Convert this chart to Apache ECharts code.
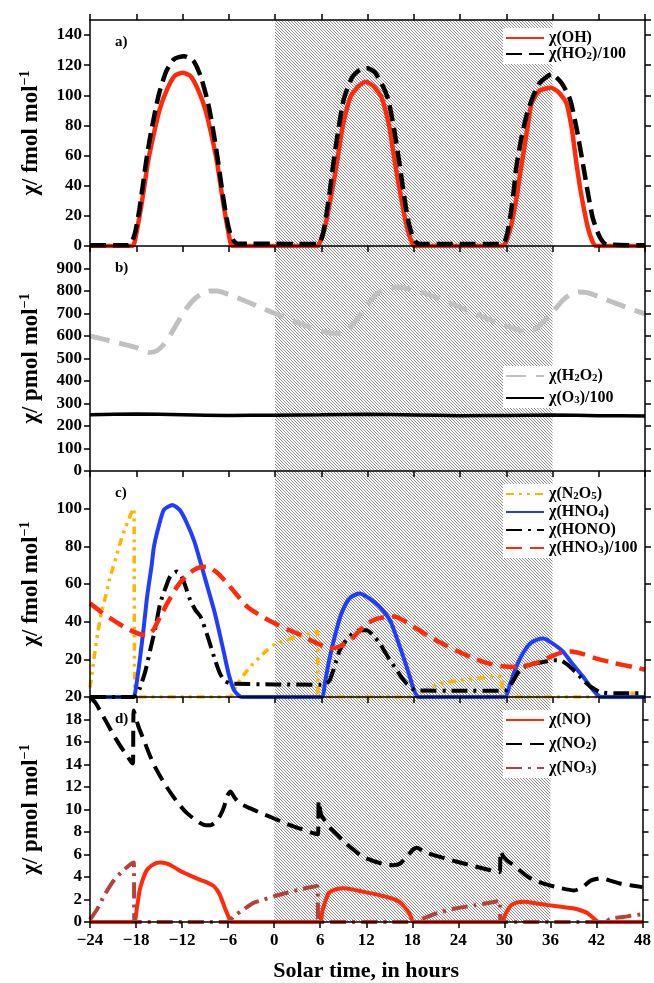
<!DOCTYPE html>
<html>
<head>
<meta charset="utf-8">
<script src="https://cdn.jsdelivr.net/npm/echarts@6/dist/echarts.min.js"></script>
<style>
html, body { margin: 0; padding: 0; background: #fff; }
#main { width: 654px; height: 983px; }
</style>
</head>
<body>
<div id="main"></div>
<script>
// hours, value pairs
var shadedHours = [0, 36];
var hourTicks = [-24, 48, 6];

// panel a
var ohData = [[-24,0],[-18.5,0],[-18,8],[-17.5,22],[-17,38],[-16.5,55],[-16,68],[-15,90],[-14,104],[-13,113],[-12,115],[-11,113],[-10,104],[-9,90],[-8,68],[-7.5,55],[-7,38],[-6.5,22],[-6,8],[-5.5,0],
  [5.5,0],[5.8,2],[6.3,9],[6.8,20],[7.3,34],[7.8,48],[8.3,64],[8.8,80],[9.8,99],[10.8,106],[11.8,109],[12.8,106],[13.8,99],[14.8,80],[15.3,64],[15.8,48],[16.3,34],[16.8,20],[17.3,9],[17.8,2],[18.1,0],
  [29.5,0],[29.9,2],[30.4,9],[30.9,20],[31.4,34],[31.8,48],[32.3,64],[32.8,80],[33.3,95],[34.3,103],[35.8,105],[36.8,102],[37.8,95],[38.5,78],[39.1,55],[39.6,38],[40.1,24],[40.6,12],[41.1,4],[41.6,0],[48,0]];
var ho2Data = [[-24,0.5],[-19,0.5],[-18.6,2],[-18.1,10],[-17.6,24],[-17.1,42],[-16.6,60],[-16.1,75],[-15.1,100],[-14.1,116],[-13.1,124],[-11.8,126],[-10.6,123],[-9.6,112],[-8.6,93],[-7.8,70],[-7.3,53],[-6.8,35],[-6.3,19],[-5.8,8],[-5.3,3],[-4.8,1.5],
  [-3,1.5],[0,1.5],[3,1.3],[5.5,1.3],[5.9,3],[6.3,10],[6.7,22],[7.1,36],[7.5,52],[8,70],[8.9,97],[10,112],[11,117],[12,118],[13,115],[14,106],[14.7,97],[15.5,76],[16.2,53],[16.7,35],[17.2,19],[17.7,8.6],[18.2,3],[18.7,1.5],
  [20,1.3],[24,1.3],[29.4,1.3],[29.8,3],[30.2,10],[30.6,22],[31,38],[31.3,52],[31.9,70],[32.6,86],[33.3,97],[34.3,108],[35.9,114],[37.2,108],[38.3,97],[39.2,76],[40,53],[40.6,35],[41.2,19],[41.9,8.6],[42.5,3],[43,1],[48,0.5]];

// panel b
var h2o2Data = [[-24,600],[-21,575],[-18,548],[-16.3,527],[-15.3,535],[-14.5,560],[-13.5,610],[-12.5,668],[-11.5,722],[-10.5,763],[-9.5,788],[-8.5,800],[-7.5,800],[-6,785],[-4,758],[-2,728],[0,700],[2,672],[4,646],[6,624],[7.5,612],[8.5,612],[9.5,630],[10.5,668],[11.5,715],[12.5,762],[13.5,795],[14.5,811],[15.8,818],[17,812],[19,795],[21,770],[23,742],[25,713],[27,685],[29,657],[31,634],[32.3,620],[33.3,622],[34.3,645],[35.3,680],[36.3,718],[37.3,758],[38.3,785],[39.5,796],[40.5,793],[42,775],[44,748],[46,722],[48,698]];
var o3Data = [[-24,250],[-18,253],[-12,250],[-6,247],[0,248],[6,250],[12,252],[18,249],[24,246],[30,247],[36,249],[42,246],[48,244]];

// panel c
var n2o5Data = [[-24,5],[-23.5,20],[-23,34],[-22.5,45],[-22,53],[-21.5,62],[-21,69],[-20.5,76],[-20,83],[-19.5,89],[-19,94],[-18.5,99],[-18.3,100],[-18.15,0],[-6,0],[-5.6,1],[-5,6],[-4,12],[-3,17],[-2,21],[-1,25],[0,28],[1,29.5],[2,31],[3,32],[4,33],[5,34],[5.5,35],[5.6,0],
  [18.5,0],[19,2],[20,4.5],[21,6.5],[22,7.5],[24,8.8],[26,9.8],[28,10.6],[29.4,11],[29.5,0],[43,0],[44,1.5],[46,2],[48,2]];
var hno4Data = [[-24,0],[-18.4,0],[-18,6],[-17.5,21],[-17,38],[-16.6,53],[-16,70],[-15.7,80],[-15,92],[-14.4,99.5],[-13.3,102],[-12.3,99],[-11.4,92],[-10.5,83],[-9.7,72],[-8.8,59],[-7.9,46],[-7.2,34],[-6.6,23],[-6,12],[-5.3,3.5],[-4.6,0.5],[-4.2,0],
  [6,0],[6.5,8],[7,19],[7.5,28],[8,36],[8.5,43],[9,48],[9.5,51.5],[10,53.5],[11,55],[12,53],[13,50],[14,46],[15,40],[16,29],[17,17],[17.5,10.6],[18,4],[18.6,0],
  [29.8,0],[30.5,7],[31.3,16],[32.2,23.5],[33.1,28.4],[34,30.5],[34.8,31],[35.8,29],[37.4,24],[38.5,18],[40,10.6],[41,5],[41.7,1.7],[42.3,0],[48,0]];
var honoData = [[-24,0],[-18.3,0],[-17.9,1.5],[-17.5,5],[-16.8,14],[-16.2,24.8],[-15.5,37],[-14.9,49.7],[-14.2,58],[-13.6,64],[-12.7,66.6],[-12,63],[-11,51.5],[-10.3,46],[-9.65,42.6],[-8.8,33],[-7.9,21.2],[-7.2,13],[-6.6,8.8],[-5.8,7.2],[-5.3,7],[0,6.7],[6,6.5],
  [6.6,7],[7.1,8.8],[7.7,16],[8.4,24.8],[9.2,30],[10.1,33.7],[11,35.5],[11.9,35.5],[12.8,32.5],[13.6,28.4],[14.7,21],[15.8,14.2],[16.5,10],[17.1,7],[17.8,4.5],[18.4,3.5],[24,3.3],[29.8,3.3],
  [30.5,6],[31.1,10],[31.7,14],[32.6,16.5],[33.5,17.7],[34.8,18.6],[36,19.5],[37,19.5],[38,17],[39.2,12.4],[40.1,8.5],[41,5.3],[42.2,2.6],[44,2],[48,2]];
var hno3Data = [[-24,49.7],[-22.5,45],[-21,40.8],[-19.5,37],[-18.3,34.6],[-17.4,33.2],[-16.6,32.8],[-15.8,35.5],[-14.9,42.6],[-13.8,51],[-12.7,58.6],[-11.6,64],[-10.5,67.5],[-9.6,69],[-8.8,69.2],[-7.5,66],[-6.2,60.4],[-4.9,54],[-3.6,47.9],[-1.8,43],[0,39],[1.7,35.8],[3.4,32.8],[4.7,30],[6,27.5],[7.1,25.7],[8.4,26.8],[9.7,30],[10.8,34.5],[11.9,39],[13.2,41.5],[14.5,42.6],[15.5,42.7],[16.6,40.8],[18.3,36.5],[20.1,31.9],[22.2,27.3],[24.4,23],[26.1,20],[27.8,17.7],[29.5,16.3],[31.3,15.9],[33,17],[34.8,19.5],[36.1,22],[37.4,23.9],[38.5,24.2],[40,22.8],[41.7,20.4],[44,18],[46.5,15.9],[48,14.5]];

// panel d
var noData = [[-24,0],[-18.3,0],[-17.9,1.2],[-17.5,2.9],[-17,4.0],[-16.6,4.6],[-16,5.0],[-15.3,5.25],[-14.9,5.3],[-14,5.2],[-13.1,4.9],[-12.3,4.55],[-11,4.15],[-9.65,3.75],[-8.7,3.5],[-7.9,3.2],[-7.4,2.8],[-7,2.3],[-6.4,1.2],[-5.9,0.4],[-5.6,0],
  [5.9,0],[6.3,1.0],[6.7,1.9],[7.1,2.55],[7.8,2.85],[8.9,3.0],[10.2,2.9],[11.5,2.7],[13,2.5],[14.5,2.25],[15.5,2.05],[16.3,1.8],[16.9,1.4],[17.6,0.8],[18.2,0],
  [29.6,0],[30.2,0.8],[30.9,1.5],[31.7,1.75],[32.6,1.8],[34.2,1.65],[35.7,1.5],[37.4,1.35],[39.1,1.2],[40.1,1.0],[40.8,0.8],[41.6,0.35],[42.3,0],[48,0]];
var no2Data = [[-24,20],[-23.3,19.5],[-22.7,18.8],[-21.8,17.7],[-21,16.7],[-20.1,15.7],[-19.2,14.8],[-18.6,14.2],[-18.4,14.1],[-18.3,18.8],[-17.7,17.4],[-17,16.2],[-16.2,14.8],[-15.3,13.5],[-14.2,12.2],[-13.1,11.1],[-12.2,10.3],[-11.4,9.7],[-10.5,9.2],[-9.65,8.8],[-8.9,8.6],[-8.3,8.6],[-7.6,8.9],[-7,9.5],[-6.5,10.3],[-6.2,11.1],[-5.7,11.6],[-5.1,11.0],[-4.4,10.5],[-3.1,10.1],[-1.8,9.7],[0,9.2],[1.7,8.7],[3.4,8.3],[5.1,7.9],[5.7,7.8],
  [5.8,10.8],[6.1,9.6],[6.6,9.0],[7.1,8.5],[8,7.9],[8.9,7.3],[10.2,6.5],[11.5,5.8],[13,5.4],[14.5,5.1],[15.5,5.05],[16.4,5.2],[17.4,5.9],[18.2,6.5],[18.6,6.6],[19.3,6.35],[20.1,6.1],[21.8,5.75],[23.6,5.4],[25.3,5.1],[27,4.8],[28.8,4.5],[29.4,4.45],
  [29.5,6.3],[29.8,5.9],[30.3,5.5],[30.9,5.2],[32,4.6],[33.1,4.0],[34.4,3.6],[35.7,3.3],[37.4,3.0],[39.1,2.8],[40.2,3.1],[41.3,3.7],[42.6,3.9],[43.9,3.65],[45.2,3.4],[46.6,3.25],[48,3.1]];
var no3Data = [[-24,0.2],[-23.6,0.6],[-23.1,1.1],[-22.1,2.4],[-21,3.6],[-19.8,4.5],[-18.6,5.2],[-18.3,5.3],[-18.2,0],[-6,0],[-5.3,0.5],[-4,1.1],[-2.7,1.7],[-1.3,2.0],[0,2.3],[1.7,2.6],[3.4,2.9],[5.6,3.2],[5.8,0],
  [18.6,0],[19,0.2],[20.1,0.5],[21.8,0.9],[23.6,1.2],[26.2,1.5],[28.8,1.8],[29.4,1.9],[29.5,0],[43,0],[43.9,0.3],[46,0.5],[48,0.7]];

var yRanges = [[0, 150, 20], [0, 1000, 100], [0, 120, 20], [0, 20, 2]];
var yUnits = ['fmol', 'pmol', 'fmol', 'pmol'];
var panelNames = ['a)', 'b)', 'c)', 'd)'];

var labels = {
  OH: '{t|χ(OH)}',
  HO2: '{t|χ(HO}{s|2}{t|)/100}',
  H2O2: '{t|χ(H}{s|2}{t|O}{s|2}{t|)}',
  O3: '{t|χ(O}{s|3}{t|)/100}',
  N2O5: '{t|χ(N}{s|2}{t|O}{s|5}{t|)}',
  HNO4: '{t|χ(HNO}{s|4}{t|)}',
  HONO: '{t|χ(HONO)}',
  HNO3: '{t|χ(HNO}{s|3}{t|)/100}',
  NO: '{t|χ(NO)}',
  NO2: '{t|χ(NO}{s|2}{t|)}',
  NO3: '{t|χ(NO}{s|3}{t|)}'
};

var FONT = '"Liberation Serif", "DejaVu Serif", serif';

var myChart = echarts.init(document.getElementById('main'));

// hatch pattern for the shaded hours
var hatch = document.createElement('canvas');
hatch.width = 3; hatch.height = 3;
var hc = hatch.getContext('2d');
hc.fillStyle = '#ffffff'; hc.fillRect(0, 0, 3, 3);
hc.fillStyle = '#8a8a8a';
for (var i = 0; i < 3; i++) hc.fillRect(i, i, 1, 1);

var grids = [
  { left: 90, width: 555, top: 20, height: 226 },
  { left: 90, width: 555, top: 246, height: 225 },
  { left: 90, width: 555, top: 471, height: 226 },
  { left: 90, width: 555, top: 697, height: 225 }
];

var axisLine = { show: true, onZero: false, lineStyle: { color: '#000', width: 1.5 } };
var axisTick = { show: true, inside: false, length: 6, lineStyle: { color: '#000', width: 1.5 } };

function hourLabel(v) { return v < 0 ? '\u2212' + Math.abs(v) : String(v); }

var xAxes = [];
for (var g = 0; g < 4; g++) {
  xAxes.push({
    type: 'value', gridIndex: g, min: hourTicks[0], max: hourTicks[1], interval: hourTicks[2],
    position: 'bottom', z: 10,
    axisLine: axisLine, axisTick: axisTick, splitLine: { show: false },
    axisLabel: {
      show: g === 3, formatter: hourLabel, margin: 10,
      fontFamily: FONT, fontWeight: 'bold', fontSize: 17, color: '#000'
    },
    name: g === 3 ? 'Solar time, in hours' : '',
    nameLocation: 'middle', nameGap: 38,
    nameTextStyle: { fontFamily: FONT, fontWeight: 'bold', fontSize: 22, color: '#000' }
  });
}
xAxes.push({
  type: 'value', gridIndex: 0, min: hourTicks[0], max: hourTicks[1], interval: hourTicks[2],
  position: 'top', z: 10, axisLine: axisLine, axisTick: axisTick,
  splitLine: { show: false }, axisLabel: { show: false }
});

var yAxes = [];
for (var g2 = 0; g2 < 4; g2++) {
  var r = yRanges[g2];
  yAxes.push({
    type: 'value', gridIndex: g2, min: r[0], max: r[1], interval: r[2], position: 'left', z: 10,
    axisLine: axisLine, axisTick: axisTick, splitLine: { show: false },
    axisLabel: {
      margin: 8, fontFamily: FONT, fontWeight: 'bold', fontSize: 17, color: '#000',
      showMinLabel: g2 !== 2, showMaxLabel: g2 === 3
    },
    name: '{t|\u03c7/ ' + yUnits[g2] + ' mol}{p|\u22121}',
    nameLocation: 'middle', nameGap: 46, nameRotate: 90,
    nameTextStyle: {
      rich: {
        t: { fontFamily: FONT, fontWeight: 'bold', fontSize: 23, lineHeight: 26, color: '#000' },
        p: { fontFamily: FONT, fontWeight: 'bold', fontSize: 14, lineHeight: 14, verticalAlign: 'top', color: '#000' }
      }
    }
  });
  yAxes.push({
    type: 'value', gridIndex: g2, min: r[0], max: r[1], interval: r[2], position: 'right', z: 10,
    axisLine: axisLine, axisTick: axisTick, splitLine: { show: false }, axisLabel: { show: false }
  });
}

function line(name, data, g, color, width, dash) {
  return {
    name: name, type: 'line', data: data, xAxisIndex: g, yAxisIndex: g * 2,
    symbol: 'none', showSymbol: false, smooth: 0.2, z: 3, silent: true,
    lineStyle: { color: color, width: width, type: dash || 'solid', cap: 'butt' },
    itemStyle: { color: color }
  };
}

function shade(g) {
  return {
    name: 'shade' + g, type: 'line', data: [], xAxisIndex: g, yAxisIndex: g * 2,
    symbol: 'none', z: 1, silent: true,
    markArea: {
      silent: true,
      itemStyle: { color: { image: hatch, repeat: 'repeat' }, opacity: 1, borderWidth: 0 },
      data: [[{ xAxis: shadedHours[0] }, { xAxis: shadedHours[1] }]]
    }
  };
}

var richLegend = {
  t: { fontFamily: FONT, fontWeight: 'bold', fontSize: 16, lineHeight: 16, color: '#000' },
  s: { fontFamily: FONT, fontWeight: 'bold', fontSize: 11, lineHeight: 10, verticalAlign: 'bottom', color: '#000' }
};

function legendAt(names, top, gap) {
  return {
    data: names, orient: 'vertical', left: 503, top: top,
    itemWidth: 38, itemHeight: 12, itemGap: gap,
    backgroundColor: '#fff', padding: [2, 6, 2, 2], selectedMode: false,
    itemStyle: { opacity: 0 },
    formatter: function (n) { return labels[n]; },
    textStyle: { rich: richLegend }
  };
}

var option = {
  backgroundColor: '#fff',
  animation: false,
  title: panelNames.map(function (t, k) {
    return { text: t, left: 110, top: grids[k].top + 10,
      textStyle: { fontFamily: FONT, fontWeight: 'bold', fontSize: 15, color: '#000' } };
  }),
  grid: grids,
  xAxis: xAxes,
  yAxis: yAxes,
  legend: [
    legendAt(['OH', 'HO2'], 28, 0),
    legendAt(['H2O2', 'O3'], 366, 6),
    legendAt(['N2O5', 'HNO4', 'HONO', 'HNO3'], 484, 2),
    legendAt(['NO', 'NO2', 'NO3'], 710, 8)
  ],
  series: [
    shade(0), shade(1), shade(2), shade(3),
    line('OH', ohData, 0, '#ff2a0a', 4.5),
    line('HO2', ho2Data, 0, '#000000', 4.5, [16, 7]),
    line('H2O2', h2o2Data, 1, '#c0c0c0', 5, [20, 10]),
    line('O3', o3Data, 1, '#000000', 3.5),
    line('N2O5', n2o5Data, 2, '#ffb400', 3.5, [8, 5, 3, 5, 3, 5]),
    line('HNO4', hno4Data, 2, '#1f3cff', 4),
    line('HONO', honoData, 2, '#000000', 4, [16, 6, 3, 6]),
    line('HNO3', hno3Data, 2, '#ff2a0a', 4.5, [16, 8]),
    line('NO', noData, 3, '#ff2a0a', 4),
    line('NO2', no2Data, 3, '#000000', 4, [16, 8]),
    line('NO3', no3Data, 3, '#b5423a', 4, [16, 6, 3, 6])
  ]
};

myChart.setOption(option);
</script>
</body>
</html>
